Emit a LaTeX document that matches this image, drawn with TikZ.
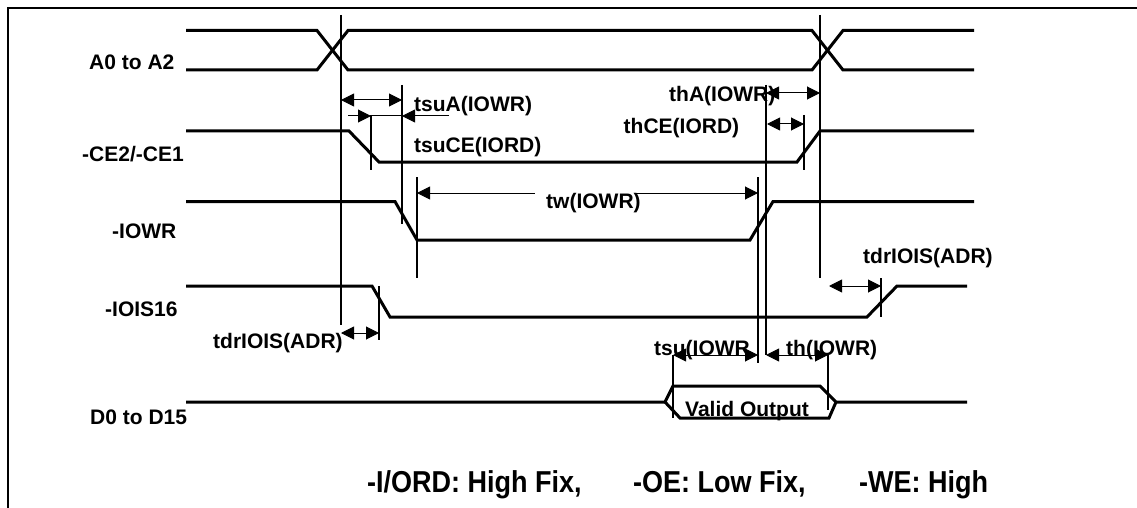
\documentclass[tikz,border=0pt]{standalone}
\usepackage{fontspec}
\setmainfont{Liberation Sans}
\usetikzlibrary{arrows.meta}
\tikzset{
  sig/.style={line width=3pt,line join=miter},
  mark line/.style={line width=1.6pt},
  arrowhd/.style={line width=1pt},
  dim/.style={arrowhd,{Triangle[width=13pt,length=13pt]}-{Triangle[width=13pt,length=13pt]}},
  dimr/.style={arrowhd,-{Triangle[width=13pt,length=13pt]}},
  diml/.style={arrowhd,{Triangle[width=13pt,length=13pt]}-},
  lab/.style={font=\fontsize{21}{22}\selectfont\bfseries,inner sep=0pt,anchor=base west},
  botlab/.style={font=\fontsize{27}{30}\selectfont\bfseries,inner sep=0pt,anchor=base west},
}
\begin{document}
\begin{tikzpicture}[x=1pt,y=-1pt]
\useasboundingbox (0,0) rectangle (1137,508);
\fill[white] (0,0) rectangle (1137,508);
% frame
\draw[line width=2pt] (8,508) -- (8,8) -- (1137,8);
% A0 to A2
\draw[sig] (186,30.5) -- (317,30.5) -- (348,70) -- (812,70) -- (843,30.5) -- (974,30.5);
\draw[sig] (186,70) -- (317,70) -- (348,30.5) -- (812,30.5) -- (843,70) -- (974,70);
% CE
\draw[sig] (186,131) -- (349,131) -- (379,162) -- (797,162) -- (820,131) -- (974,131);
% IOWR
\draw[sig] (186,201.5) -- (395,201.5) -- (417,240) -- (750,240) -- (773,201.5) -- (974,201.5);
% IOIS16
\draw[sig] (186,286) -- (372,286) -- (390,317) -- (867,317) -- (897,286) -- (967,286);
% D0
\draw[sig] (186,402) -- (665,402) -- (673,386) -- (820,386) -- (836,402) -- (967,402);
\draw[sig] (665,402) -- (680,418) -- (829,418) -- (836,402);
% vertical markers
\draw[mark line] (340.7,15) -- (340.7,325);
\draw[mark line] (820,15) -- (820,278);
\draw[mark line] (402,85) -- (402,224);
\draw[mark line] (371,115) -- (371,170);
\draw[mark line] (417,177) -- (417,278);
\draw[mark line] (758,177) -- (758,363);
\draw[mark line] (766,85) -- (766,355);
\draw[mark line] (804,115) -- (804,170);
\draw[mark line] (379,286) -- (379,340);
\draw[mark line] (881,278) -- (881,317);
\draw[mark line] (673,355) -- (673,418);
\draw[mark line] (828,355) -- (828,410);
% dimension arrows
\draw[dim] (341,100) -- (402,100);
\draw[dimr] (348,116) -- (371,116);
\draw[arrowhd] (371,116) -- (402,116);
\draw[dimr] (449,116) -- (402,116);
\draw[diml] (417,193) -- (535,193);
\draw[dimr] (635,193) -- (758,193);
\draw[dim] (766,93) -- (820,93);
\draw[dim] (767,124) -- (804,124);
\draw[dim] (341,333) -- (379,333);
\draw[dim] (829,286) -- (881,286);
\draw[dim] (673,355) -- (758,355);
\draw[dim] (766,355) -- (828,355);
% labels
\node[lab] (l1) at (89,69.5) {A0 to A2};
\node[lab] (l2) at (82,161) {-CE2/-CE1};
\node[lab] (l3) at (112,238) {-IOWR};
\node[lab] (l4) at (105,316.5) {-IOIS16};
\node[lab] (l5) at (90,424) {D0 to D15};
\node[lab] (t1) at (414,111.5) {tsuA(IOWR)};
\node[lab] (t2) at (414,153) {tsuCE(IORD)};
\node[lab] (t3) at (546,208) {tw(IOWR)};
\node[lab] (t4) at (669,102) {thA(IOWR)};
\node[lab] (t5) at (623.5,133) {thCE(IORD)};
\node[lab] (t6) at (863,263) {tdrIOIS(ADR)};
\node[lab] (t7) at (213,348) {tdrIOIS(ADR)};
\node[lab] (t8) at (654,355) {tsu(IOWR};
\node[lab] (t9) at (786,355) {th(IOWR)};
\node[lab] (t10) at (685,416) {Valid Output};
\node[botlab] (b1) at (367,492) {\scalebox{1}[1.12]{-I/ORD: High Fix,}};
\node[botlab] (b2) at (633,492) {\scalebox{1}[1.12]{-OE: Low Fix,}};
\node[botlab] (b3) at (859,492) {\scalebox{1}[1.12]{-WE: High}};
\end{tikzpicture}
\end{document}
